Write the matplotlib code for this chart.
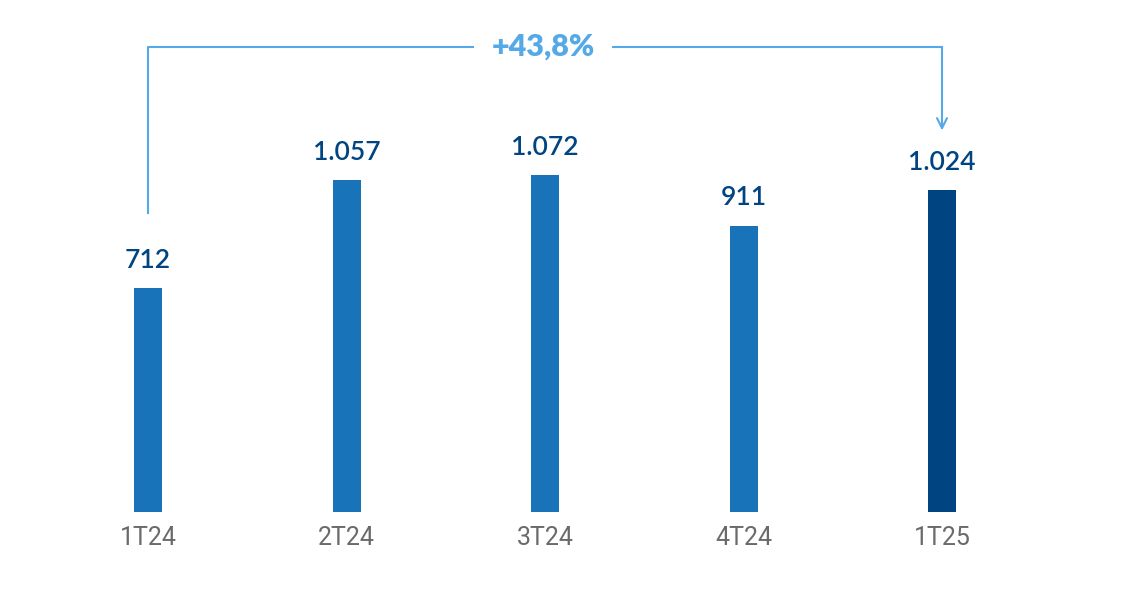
import matplotlib.pyplot as plt

# data
quarters = ["1T24", "2T24", "3T24", "4T24", "1T25"]
values = [712, 1057, 1072, 911, 1024]
value_labels = ["712", "1.057", "1.072", "911", "1.024"]
change_label = "+43,8%"

bar_colors = ["#1973B8"] * 4 + ["#004481"]
line_color = "#55A9E6"

scale = 0.314  # px per unit
spacing = 198.5  # px between bars
fig = plt.figure(figsize=(11.47, 5.94), dpi=100)
ax = fig.add_axes([0, 0, 1, 1])
ax.set_xlim(-148 / spacing, (1147 - 148) / spacing)
ax.set_ylim(-82 / scale, 512 / scale)
ax.axis("off")

xs = list(range(len(quarters)))
ax.bar(xs, values, width=28 / spacing, color=bar_colors)

for x, v, lab, q in zip(xs, values, value_labels, quarters):
    ax.text(x, v + 28 / scale, lab, ha="center", va="center",
            fontsize=19, color="#004481", family="Lato", fontweight="semibold")
    ax.text(x, -26 / scale, q, ha="center", va="center",
            fontsize=18, color="#6A6A6A", family="Roboto", fontweight="normal")

# bracket
y_start = values[0] + 75 / scale
y_top = 465 / scale
y_end = values[-1] + 60 / scale
gap_l, gap_r = (473 - 148) / spacing, (613 - 148) / spacing
kw = dict(color=line_color, lw=1.5)
ax.plot([0, 0, gap_l], [y_start, y_top, y_top], **kw)
ax.plot([gap_r, 4], [y_top, y_top], **kw)
ax.annotate("", xy=(4, y_end), xytext=(4, y_top),
            arrowprops=dict(arrowstyle="->", color=line_color, lw=1.5,
                            mutation_scale=18, shrinkA=0, shrinkB=0))
ax.text((gap_l + gap_r) / 2, y_top, change_label, ha="center", va="center",
        fontsize=22, color=line_color, family="Lato", fontweight="heavy")

fig.savefig("out.png", dpi=100)
